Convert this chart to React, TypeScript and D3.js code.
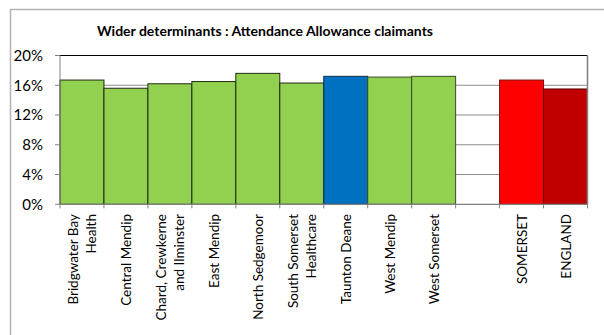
import React from 'react';
import * as d3 from 'd3';

const categories: string[][] = [
  ['Bridgwater Bay', 'Health'],
  ['Central Mendip'],
  ['Chard, Crewkerne', 'and Ilminster'],
  ['East Mendip'],
  ['North Sedgemoor'],
  ['South Somerset', 'Healthcare'],
  ['Taunton Deane'],
  ['West Mendip'],
  ['West Somerset'],
  [],
  ['SOMERSET'],
  ['ENGLAND'],
];
const values: (number | null)[] = [16.7, 15.6, 16.2, 16.5, 17.6, 16.3, 17.2, 17.1, 17.2, null, 16.7, 15.5];
const colors: string[] = ['#92D050', '#92D050', '#92D050', '#92D050', '#92D050', '#92D050', '#0070C0', '#92D050', '#92D050', '#ffffff', '#FF0000', '#C00000'];
const strokes: string[] = ['#1f2a14', '#1f2a14', '#1f2a14', '#1f2a14', '#1f2a14', '#1f2a14', '#0d2a45', '#3a4a2a', '#3a4a2a', '#ffffff', '#7a1010', '#5a0000'];
const yTicks: number[] = [0, 4, 8, 12, 16, 20];
const title = 'Wider determinants : Attendance Allowance claimants';

const W = 604, H = 335;
const left = 60, right = 587.5, top = 55.5, bottom = 204.3;

export default function App() {
  const keys = categories.map((_, i) => String(i));
  const x = d3.scaleBand<string>().domain(keys).range([left, right]).padding(0);
  const y = d3.scaleLinear().domain([0, 20]).range([bottom, top]);
  const font = 'Lato, "Open Sans", sans-serif';
  return (
    <svg width={W} height={H} style={{ position: 'absolute', left: 0, top: 0, background: '#fff' }} fontFamily={font}>
      <rect x={10.5} y={9.5} width={W + 20} height={H + 20} fill="#fff" stroke="#b3b3b3" strokeWidth={1.5} />
      <text x={265} y={36} textAnchor="middle" fontWeight="bold" fontSize={14}>{title}</text>
      {yTicks.filter(t => t > 0 && t < 20).map(t => (
        <line key={t} x1={left} x2={right} y1={y(t)} y2={y(t)} stroke="#8c8c8c" strokeWidth={1} />
      ))}
      {values.map((v, i) => v == null ? null : (
        <rect key={i} x={x(keys[i])!} y={y(v)} width={x.bandwidth()} height={bottom - y(v)}
          fill={colors[i]} stroke={strokes[i]} strokeWidth={1} />
      ))}
      <line x1={left} x2={right} y1={top} y2={top} stroke="#000" strokeWidth={1} />
      <line x1={right} x2={right} y1={top} y2={bottom} stroke="#808080" strokeWidth={1.5} />
      <line x1={left} x2={left} y1={top} y2={bottom} stroke="#808080" strokeWidth={1} />
      <line x1={left} x2={right} y1={bottom} y2={bottom} stroke="#808080" strokeWidth={1.2} />
      {yTicks.map(t => (
        <g key={t}>
          <line x1={left - 5} x2={left} y1={y(t)} y2={y(t)} stroke="#808080" />
          <text x={43} y={y(t)} dy="0.36em" textAnchor="end" fontSize={15}>{t}%</text>
        </g>
      ))}
      {d3.range(keys.length + 1).map(i => {
        const xx = left + i * x.bandwidth();
        return <line key={i} x1={xx} x2={xx} y1={bottom} y2={bottom + 4} stroke="#808080" />;
      })}
      {categories.map((lines, i) => {
        const cx = x(keys[i])! + x.bandwidth() / 2;
        const n = lines.length;
        const lh = 18;
        return lines.map((ln, j) => {
          const lx = cx + (j - (n - 1) / 2) * lh;
          return (
            <text key={i + '-' + j} transform={`translate(${lx},${214}) rotate(-90)`} textAnchor="end"
              dominantBaseline="central" fontSize={13.5}>{ln}</text>
          );
        });
      })}
    </svg>
  );
}
